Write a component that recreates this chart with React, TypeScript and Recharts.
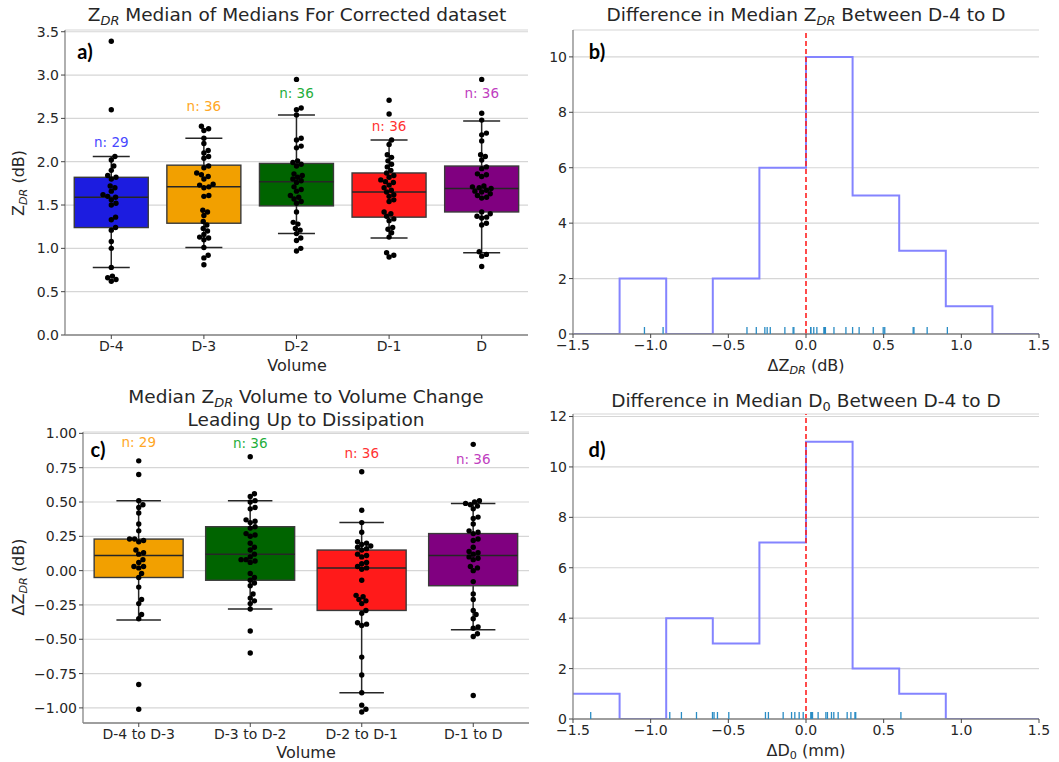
import React from "react";
import {
  ComposedChart,
  Bar,
  Line,
  Scatter,
  XAxis,
  YAxis,
  CartesianGrid,
  ReferenceLine,
} from "recharts";

// panel a: ZDR median of medians per volume
const volumes = ["D-4", "D-3", "D-2", "D-1", "D"];
const zdrD4 = [3.39, 2.6, 2.06, 2.02, 1.95, 1.9, 1.84, 1.82, 1.8, 1.72, 1.7, 1.66, 1.62, 1.6, 1.59, 1.56, 1.52, 1.5, 1.36, 1.33, 1.24, 1.21, 1.08, 1.0, 0.78, 0.68, 0.66, 0.64, 0.62];
const zdrD3 = [2.41, 2.38, 2.36, 2.27, 2.21, 2.13, 2.1, 2.06, 2.04, 1.95, 1.93, 1.87, 1.85, 1.83, 1.8, 1.74, 1.73, 1.71, 1.7, 1.61, 1.6, 1.44, 1.42, 1.38, 1.31, 1.27, 1.23, 1.2, 1.16, 1.13, 1.12, 1.1, 1.01, 0.92, 0.89, 0.81];
const zdrD2 = [2.95, 2.62, 2.6, 2.54, 2.27, 2.25, 2.18, 2.16, 2.01, 1.99, 1.97, 1.95, 1.86, 1.84, 1.82, 1.8, 1.78, 1.76, 1.71, 1.68, 1.66, 1.61, 1.59, 1.57, 1.54, 1.52, 1.42, 1.3, 1.28, 1.23, 1.21, 1.17, 1.12, 1.09, 1.0, 0.97];
const zdrD1 = [2.71, 2.55, 2.25, 2.2, 2.08, 2.05, 2.01, 1.97, 1.94, 1.9, 1.87, 1.84, 1.82, 1.79, 1.77, 1.76, 1.73, 1.7, 1.67, 1.65, 1.62, 1.6, 1.56, 1.54, 1.42, 1.4, 1.37, 1.34, 1.32, 1.24, 1.22, 1.18, 1.13, 0.95, 0.92, 0.9];
const zdrD0 = [2.95, 2.56, 2.48, 2.33, 2.31, 2.24, 2.08, 2.06, 2.02, 1.94, 1.92, 1.86, 1.85, 1.83, 1.72, 1.71, 1.7, 1.69, 1.67, 1.66, 1.65, 1.63, 1.61, 1.59, 1.58, 1.42, 1.4, 1.37, 1.36, 1.35, 1.29, 1.27, 0.96, 0.93, 0.91, 0.79];
const zdrWhiskerLo = [0.78, 1.01, 1.17, 1.12, 0.95];
const zdrQ1 = [1.24, 1.29, 1.49, 1.36, 1.42];
const zdrMedian = [1.59, 1.71, 1.77, 1.65, 1.69];
const zdrQ3 = [1.82, 1.96, 1.98, 1.87, 1.95];
const zdrWhiskerHi = [2.06, 2.27, 2.54, 2.25, 2.47];
const zdrCounts = [29, 36, 36, 36, 36];
const zdrCountLabelY = [2.23, 2.64, 2.79, 2.41, 2.79];

// panel c: volume to volume change
const changes = ["D-4 to D-3", "D-3 to D-2", "D-2 to D-1", "D-1 to D"];
const chgD4D3 = [0.8, 0.7, 0.51, 0.48, 0.46, 0.42, 0.34, 0.29, 0.23, 0.23, 0.22, 0.21, 0.15, 0.13, 0.12, 0.08, 0.06, 0.03, 0.03, 0.02, -0.02, -0.05, -0.12, -0.21, -0.24, -0.32, -0.35, -0.83, -1.01];
const chgD3D2 = [0.83, 0.56, 0.54, 0.51, 0.5, 0.46, 0.45, 0.37, 0.36, 0.35, 0.32, 0.31, 0.27, 0.26, 0.25, 0.2, 0.17, 0.15, 0.12, 0.1, 0.08, 0.08, 0.07, 0.06, -0.02, -0.05, -0.07, -0.09, -0.11, -0.17, -0.2, -0.22, -0.24, -0.28, -0.44, -0.6];
const chgD2D1 = [0.72, 0.44, 0.35, 0.28, 0.21, 0.2, 0.19, 0.18, 0.17, 0.16, 0.15, 0.12, 0.11, 0.1, 0.06, 0.05, 0.03, 0.02, 0.01, -0.07, -0.18, -0.19, -0.21, -0.22, -0.24, -0.29, -0.31, -0.38, -0.39, -0.4, -0.63, -0.76, -0.89, -0.98, -1.01, -1.03];
const chgD1D = [0.92, 0.51, 0.5, 0.49, 0.48, 0.47, 0.45, 0.39, 0.38, 0.34, 0.29, 0.28, 0.27, 0.23, 0.22, 0.17, 0.14, 0.13, 0.12, 0.1, 0.09, 0.08, 0.03, 0.02, 0.0, -0.08, -0.17, -0.21, -0.29, -0.32, -0.35, -0.41, -0.42, -0.46, -0.48, -0.91];
const chgWhiskerLo = [-0.36, -0.28, -0.89, -0.43];
const chgQ1 = [-0.05, -0.07, -0.29, -0.11];
const chgMedian = [0.11, 0.12, 0.02, 0.11];
const chgQ3 = [0.23, 0.32, 0.15, 0.27];
const chgWhiskerHi = [0.51, 0.51, 0.35, 0.49];
const chgCounts = [29, 36, 36, 36];
const chgCountLabelY = [0.94, 0.93, 0.86, 0.81];

// panels b and d: histograms of D-4 to D differences
const binEdges = [-1.5, -1.2, -0.9, -0.6, -0.3, 0, 0.3, 0.6, 0.9, 1.2, 1.5];
const zdrDiffCounts = [0, 2, 0, 2, 6, 10, 5, 3, 1, 0];
const zdrDiffRug = [-1.04, -0.92, -0.38, -0.32, -0.265, -0.25, -0.23, -0.136, -0.083, -0.078, 0.031, 0.03, 0.05, 0.07, 0.115, 0.12, 0.123, 0.125, 0.18, 0.257, 0.3, 0.342, 0.433, 0.497, 0.507, 0.69, 0.695, 0.78, 0.91];
const d0DiffCounts = [1, 0, 4, 3, 7, 11, 2, 1, 0, 0];
const d0DiffRug = [-1.386, -0.877, -0.802, -0.705, -0.602, -0.592, -0.57, -0.497, -0.261, -0.242, -0.147, -0.093, -0.072, -0.044, -0.018, 0.031, 0.035, 0.042, 0.078, 0.128, 0.138, 0.164, 0.179, 0.207, 0.265, 0.289, 0.315, 0.32, 0.611];
const histXTicks = [-1.5, -1, -0.5, 0, 0.5, 1, 1.5];

const volColors = ["#1c1ce0", "#f2a000", "#006400", "#ff1a1a", "#800080"];
const volLabelColors = ["#4848ff", "#ffa726", "#1fae3c", "#ff3333", "#c040c0"];
const chgColors = ["#f2a000", "#006400", "#ff1a1a", "#800080"];
const chgLabelColors = ["#ffa726", "#1fae3c", "#ff3333", "#c040c0"];

const SPINE = "#858585";
const TXT = "#262626";
const GRID = "#d6d6d6";
const DOT_D = 5;

const minus = (s: string) => s.replace("-", "\u2212");

const boxTable = (names, lo, q1, med, q3, hi) =>
  names.map((name, i) => ({ name, i, lo: lo[i], q1: q1[i], med: med[i], q3: q3[i], hi: hi[i] }));

// beeswarm placement: each dot goes to the free spot nearest the centre line
function swarm(values: number[], cat: number, pxPerY: number, pxPerCat: number) {
  const placed: { px: number; py: number }[] = [];
  const out: { x: number; y: number }[] = [];
  [...values].sort((a, b) => a - b).forEach((v) => {
    const py = v * pxPerY;
    const near = placed.filter((p) => Math.abs(p.py - py) < DOT_D);
    const cands = [0];
    near.forEach((p) => {
      const dx = Math.sqrt(DOT_D * DOT_D - (p.py - py) ** 2);
      cands.push(p.px + dx, p.px - dx);
    });
    cands.sort((a, b) => Math.abs(a) - Math.abs(b));
    const px =
      cands.find((c) => near.every((p) => (p.px - c) ** 2 + (p.py - py) ** 2 >= DOT_D * DOT_D - 0.01)) ?? 0;
    placed.push({ px, py });
    out.push({ x: cat + px / pxPerCat, y: v });
  });
  return out;
}

const Sub = ({ children, italic = true }: any) => (
  <span style={{ fontSize: "0.7em", fontStyle: italic ? "italic" : "normal", position: "relative", top: "0.3em" }}>
    {children}
  </span>
);

const Txt = ({ x, y, size = 18.5, rotate = 0, bold = false, font, children }: any) => (
  <div
    style={{
      position: "absolute",
      left: x,
      top: y,
      transform: `translate(-50%, -50%) rotate(${rotate}deg)`,
      fontSize: size,
      fontWeight: bold ? 700 : 400,
      fontFamily: font,
      whiteSpace: "nowrap",
      lineHeight: 1,
      color: bold ? "#000" : TXT,
      textAlign: "center",
    }}
  >
    {children}
  </div>
);

const tickStyle = { fontSize: 14, fill: TXT };
const axisLine = { stroke: SPINE, strokeWidth: 1.3 };
const tickLine = { stroke: "#444" };

function BoxPanel({ left, top, layout, names, table, points, counts, labelY, domain, ticks, fmt, colors, labelColors }: any) {
  const { w, h, margin, yw, xh } = layout;
  const plotW = w - margin.left - margin.right - yw;
  const plotH = h - margin.top - margin.bottom - xh;
  const pxPerCat = plotW / names.length;
  const pxPerY = plotH / (domain[1] - domain[0]);
  const swarmData = points.flatMap((vals: number[], i: number) => swarm(vals, i, pxPerY, pxPerCat));
  const labelData = names.map((_: string, i: number) => ({ x: i, y: labelY[i], i, n: counts[i] }));

  const BoxShape = (p: any) => {
    const { x, y, width, height, payload: d } = p;
    const t = Math.min(y, y + height);
    const hh = Math.abs(height);
    const toPx = (v: number) => t + ((d.hi - v) / (d.hi - d.lo)) * hh;
    const cx = x + width / 2;
    const cap = width / 4;
    return (
      <g>
        <line x1={cx} x2={cx} y1={toPx(d.hi)} y2={toPx(d.lo)} stroke="#262626" strokeWidth={1.5} />
        <line x1={cx - cap} x2={cx + cap} y1={toPx(d.hi)} y2={toPx(d.hi)} stroke="#262626" strokeWidth={1.5} />
        <line x1={cx - cap} x2={cx + cap} y1={toPx(d.lo)} y2={toPx(d.lo)} stroke="#262626" strokeWidth={1.5} />
        <rect
          x={x}
          y={toPx(d.q3)}
          width={width}
          height={toPx(d.q1) - toPx(d.q3)}
          fill={colors[d.i]}
          stroke="#3a3a3a"
          strokeWidth={1.4}
        />
        <line x1={x} x2={x + width} y1={toPx(d.med)} y2={toPx(d.med)} stroke="#262626" strokeWidth={1.5} />
      </g>
    );
  };

  return (
    <div style={{ position: "absolute", left, top }}>
      <ComposedChart width={w} height={h} data={table} margin={margin} barCategoryGap="10%">
        <CartesianGrid vertical={false} stroke={GRID} strokeWidth={1.2} />
        <XAxis dataKey="name" height={xh} interval={0} tickSize={4} tick={tickStyle} tickLine={tickLine} axisLine={axisLine} />
        <XAxis xAxisId="sw" type="number" dataKey="x" domain={[-0.5, names.length - 0.5]} hide allowDataOverflow />
        <XAxis xAxisId="top" orientation="top" dataKey="name" height={0} tick={false} tickLine={false} axisLine={axisLine} />
        <YAxis
          type="number"
          dataKey="y"
          domain={domain}
          ticks={ticks}
          width={yw}
          allowDataOverflow
          interval={0}
          tickFormatter={fmt}
          tickSize={4}
          tick={tickStyle}
          tickLine={tickLine}
          axisLine={axisLine}
        />
        <YAxis yAxisId="r" orientation="right" type="number" domain={domain} width={0} tick={false} tickLine={false} axisLine={axisLine} />
        <Bar dataKey={(d: any) => [d.lo, d.hi]} shape={BoxShape} isAnimationActive={false} />
        <Scatter
          xAxisId="sw"
          data={swarmData}
          isAnimationActive={false}
          shape={(p: any) => <circle cx={p.cx} cy={p.cy} r={2.7} fill="#000" />}
        />
        <Scatter
          xAxisId="sw"
          data={labelData}
          isAnimationActive={false}
          shape={(p: any) => (
            <text x={p.cx} y={p.cy} textAnchor="middle" dominantBaseline="central" fontSize={13.5} fill={labelColors[p.payload.i]}>
              n: {p.payload.n}
            </text>
          )}
        />
      </ComposedChart>
    </div>
  );
}

function HistPanel({ left, top, layout, counts, rug, yMax, yTicks }: any) {
  const { w, h, margin, yw, xh } = layout;
  const stepData = binEdges.map((e, i) => ({ x: e, y: counts[Math.min(i, counts.length - 1)] }));
  const rugData = rug.map((v: number) => ({ x: v, y: 0 }));
  const fmt = (v: number) => minus(v.toFixed(1));
  return (
    <div style={{ position: "absolute", left, top }}>
      <ComposedChart width={w} height={h} data={stepData} margin={margin}>
        <CartesianGrid vertical={false} stroke={GRID} strokeWidth={1.2} />
        <XAxis
          type="number"
          dataKey="x"
          domain={[-1.5, 1.5]}
          ticks={histXTicks}
          interval={0}
          tickFormatter={fmt}
          height={xh}
          tickSize={4}
          tick={tickStyle}
          tickLine={tickLine}
          axisLine={axisLine}
        />
        <XAxis xAxisId="top" orientation="top" type="number" domain={[-1.5, 1.5]} height={0} tick={false} tickLine={false} axisLine={axisLine} />
        <YAxis
          type="number"
          dataKey="y"
          domain={[0, yMax]}
          ticks={yTicks}
          interval={0}
          width={yw}
          allowDataOverflow
          tickSize={4}
          tick={tickStyle}
          tickLine={tickLine}
          axisLine={axisLine}
        />
        <YAxis yAxisId="r" orientation="right" type="number" domain={[0, yMax]} width={0} tick={false} tickLine={false} axisLine={axisLine} />
        <Line type="stepAfter" dataKey="y" stroke="#8484ff" strokeWidth={2} dot={false} activeDot={false} isAnimationActive={false} />
        <Scatter
          data={rugData}
          isAnimationActive={false}
          shape={(p: any) => <line x1={p.cx} x2={p.cx} y1={p.cy} y2={p.cy - 7} stroke="#2a8cc4" strokeWidth={1.3} />}
        />
        <ReferenceLine x={0} stroke="#ff2020" strokeDasharray="5 3" strokeWidth={1.6} />
      </ComposedChart>
    </div>
  );
}

const layoutA = { w: 530, h: 380, margin: { top: 30, right: 2, bottom: 15, left: 25 }, yw: 40, xh: 30 };
const layoutB = { w: 529, h: 380, margin: { top: 30, right: 20, bottom: 16, left: 13 }, yw: 30, xh: 30 };
const layoutC = { w: 530, h: 382, margin: { top: 52, right: 1, bottom: 14, left: 33 }, yw: 50, xh: 25 };
const layoutD = { w: 529, h: 382, margin: { top: 34, right: 20, bottom: 13, left: 13 }, yw: 30, xh: 30 };

export default function App() {
  const tableA = boxTable(volumes, zdrWhiskerLo, zdrQ1, zdrMedian, zdrQ3, zdrWhiskerHi);
  const tableC = boxTable(changes, chgWhiskerLo, chgQ1, chgMedian, chgQ3, chgWhiskerHi);
  return (
    <div
      style={{
        position: "absolute",
        left: 0,
        top: 0,
        width: 1059,
        height: 762,
        background: "#fff",
        fontFamily: "'DejaVu Sans', sans-serif",
        color: TXT,
        overflow: "hidden",
      }}
    >
      <BoxPanel
        left={0}
        top={0}
        layout={layoutA}
        names={volumes}
        table={tableA}
        points={[zdrD4, zdrD3, zdrD2, zdrD1, zdrD0]}
        counts={zdrCounts}
        labelY={zdrCountLabelY}
        domain={[0, 3.52]}
        ticks={[0, 0.5, 1, 1.5, 2, 2.5, 3, 3.5]}
        fmt={(v: number) => v.toFixed(1)}
        colors={volColors}
        labelColors={volLabelColors}
      />
      <HistPanel left={530} top={0} layout={layoutB} counts={zdrDiffCounts} rug={zdrDiffRug} yMax={10.97} yTicks={[0, 2, 4, 6, 8, 10]} />
      <BoxPanel
        left={0}
        top={380}
        layout={layoutC}
        names={changes}
        table={tableC}
        points={[chgD4D3, chgD3D2, chgD2D1, chgD1D]}
        counts={chgCounts}
        labelY={chgCountLabelY}
        domain={[-1.11, 1.01]}
        ticks={[-1, -0.75, -0.5, -0.25, 0, 0.25, 0.5, 0.75, 1]}
        fmt={(v: number) => minus(v.toFixed(2))}
        colors={chgColors}
        labelColors={chgLabelColors}
      />
      <HistPanel left={530} top={380} layout={layoutD} counts={d0DiffCounts} rug={d0DiffRug} yMax={12.1} yTicks={[0, 2, 4, 6, 8, 10, 12]} />

      <Txt x={297} y={15}>
        Z<Sub>DR</Sub> Median of Medians For Corrected dataset
      </Txt>
      <Txt x={806} y={15}>
        Difference in Median Z<Sub>DR</Sub> Between D-4 to D
      </Txt>
      <Txt x={306} y={397}>
        Median Z<Sub>DR</Sub> Volume to Volume Change
      </Txt>
      <Txt x={306} y={420}>Leading Up to Dissipation</Txt>
      <Txt x={806} y={401}>
        Difference in Median D<Sub italic={false}>0</Sub> Between D-4 to D
      </Txt>

      <Txt x={297} y={366} size={16}>Volume</Txt>
      <Txt x={806} y={366} size={16}>
        ΔZ<Sub>DR</Sub> (dB)
      </Txt>
      <Txt x={306} y={753} size={16}>Volume</Txt>
      <Txt x={806} y={751} size={16}>
        ΔD<Sub italic={false}>0</Sub> (mm)
      </Txt>
      <Txt x={19} y={183} size={16} rotate={-90}>
        Z<Sub>DR</Sub> (dB)
      </Txt>
      <Txt x={19} y={577} size={16} rotate={-90}>
        ΔZ<Sub>DR</Sub> (dB)
      </Txt>

      <Txt x={85} y={51} size={20} bold font="Lato, sans-serif">a)</Txt>
      <Txt x={597} y={51} size={20} bold font="Lato, sans-serif">b)</Txt>
      <Txt x={98} y={449} size={20} bold font="Lato, sans-serif">c)</Txt>
      <Txt x={597} y={449} size={20} bold font="Lato, sans-serif">d)</Txt>
    </div>
  );
}
